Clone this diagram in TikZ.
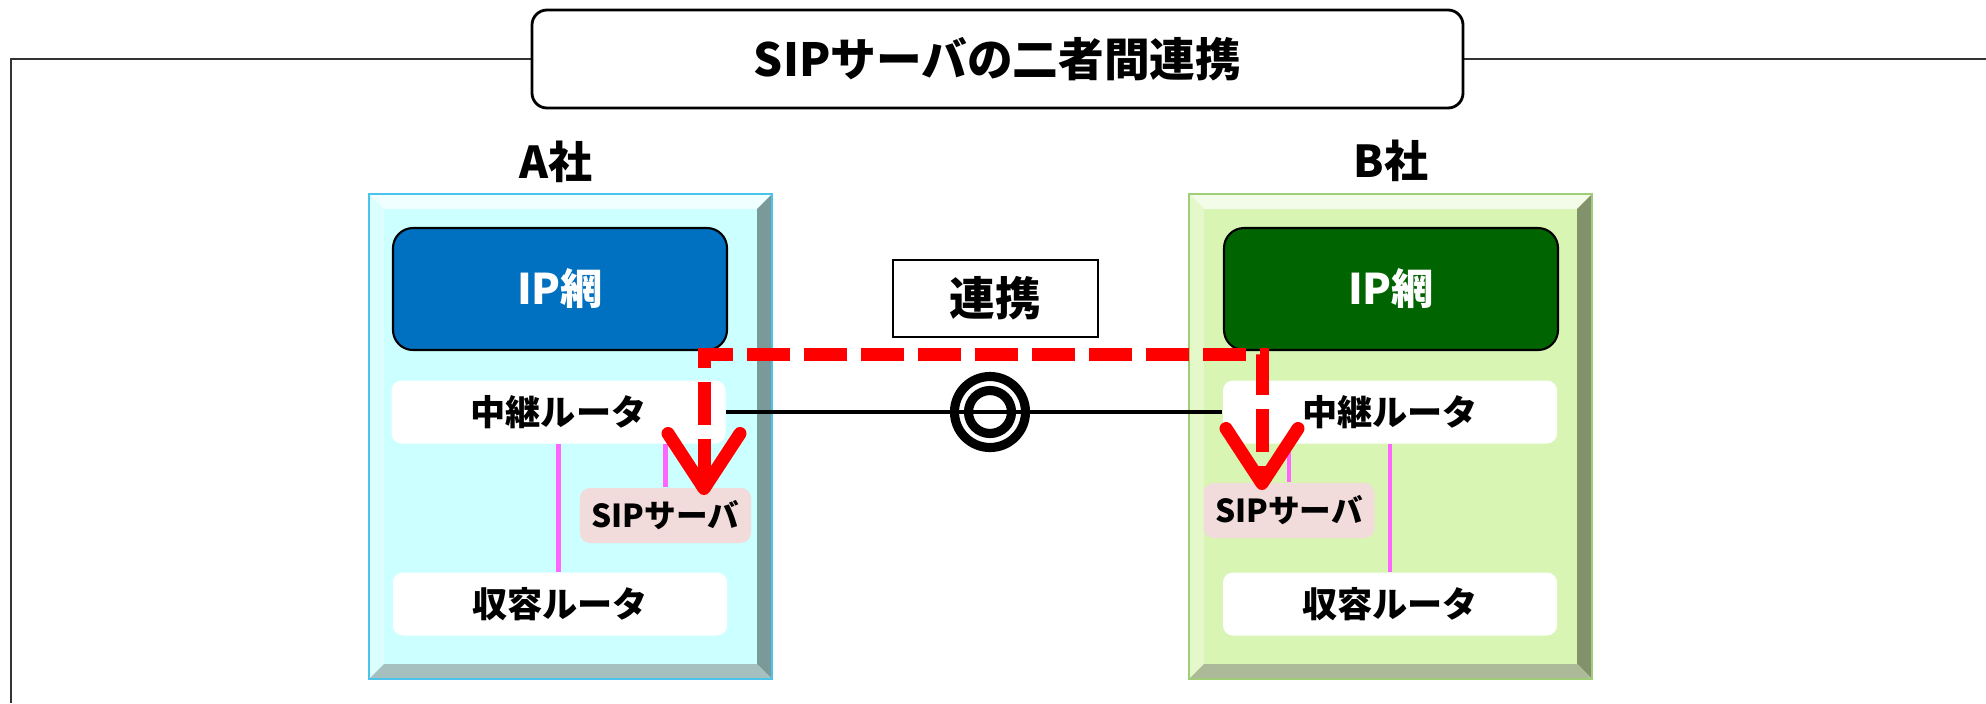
\documentclass[tikz,border=0pt]{standalone}
\usepackage{fontspec}
\setmainfont{Noto Sans CJK JP}
\usetikzlibrary{arrows.meta}
\definecolor{compA}{RGB}{204,255,255}
\definecolor{compAedge}{RGB}{75,195,235}
\definecolor{compB}{RGB}{216,245,180}
\definecolor{compBedge}{RGB}{160,205,120}
\definecolor{netA}{RGB}{0,112,192}
\definecolor{netB}{RGB}{0,100,0}
\definecolor{sipfill}{RGB}{242,220,219}
\definecolor{pinkline}{RGB}{255,102,255}

\begin{document}
\begin{tikzpicture}[
	ipnet/.style={draw=black, line width=0.6pt, rounded corners=0.2cm, minimum width=3.34cm, minimum height=1.22cm, text=white, font=\bfseries\fontsize{12}{14}\selectfont},
	router/.style={fill=white, rounded corners=0.1cm, minimum width=3.34cm, minimum height=0.63cm, font=\bfseries\fontsize{10}{12}\selectfont},
	sipbox/.style={fill=sipfill, rounded corners=0.1cm, minimum width=1.63cm, minimum height=0.55cm, font=\bfseries\fontsize{9}{11}\selectfont},
	company/.style={font=\bfseries\fontsize{12.5}{14}\selectfont},
	wire/.style={pinkline, line width=1.4pt},
	signal/.style={red, line width=3.7pt, dash pattern=on 0.43cm off 0.14cm, >={Straight Barb[length=5.5mm, width=7.2mm, round]}, <->}]

			\useasboundingbox (0,0) rectangle (19.86,7.03);
			\draw[line width=0.8pt, black!80] (0.11,0) -- (0.11,6.44) -- (19.86,6.44);

			\foreach \xa/\xb/\c/\e in {3.69/7.72/compA/compAedge, 11.89/15.92/compB/compBedge} {
				\fill[\c] (\xa,0.24) rectangle (\xb,5.09);
				\fill[white!70!\c] (\xa,5.09) -- (\xb,5.09) -- (\xb-0.15,4.94) -- (\xa+0.15,4.94) -- cycle;
				\fill[white!30!\c] (\xa,5.09) -- (\xa+0.15,4.94) -- (\xa+0.15,0.39) -- (\xa,0.24) -- cycle;
				\fill[\c!60!black] (\xb,5.09) -- (\xb-0.15,4.94) -- (\xb-0.15,0.39) -- (\xb,0.24) -- cycle;
				\fill[\c!50!gray] (\xa,0.24) -- (\xa+0.15,0.39) -- (\xb-0.15,0.39) -- (\xb,0.24) -- cycle;
				\draw[\e, line width=0.8pt] (\xa,0.24) rectangle (\xb,5.09);
			}

			\node[draw, fill=white, rounded corners=0.15cm, line width=0.8pt, minimum width=9.31cm, minimum height=0.98cm, font=\bfseries\fontsize{13}{15}\selectfont] (title) at (9.975,6.44) {SIPサーバの二者間連携};
			\node[company] (compA) at (5.56,5.41) {A社};
			\node[company] (compB) at (13.91,5.42) {B社};

			\node[ipnet, fill=netA] (ipA) at (5.60,4.14) {IP網};
			\node[ipnet, fill=netB] (ipB) at (13.91,4.14) {IP網};
			\node[router] (relayA) at (5.585,2.91) {中継ルータ};
			\node[router] (relayB) at (13.90,2.91) {中継ルータ};
			\node[router] (accA) at (5.60,0.99) {収容ルータ};
			\node[router] (accB) at (13.90,0.99) {収容ルータ};
			\node[sipbox] (sipA) at (6.655,1.875) {SIPサーバ};
			\node[sipbox] (sipB) at (12.89,1.925) {SIPサーバ};

			\draw[wire] (relayA.south) -- (relayA.south |- accA.north);
			\draw[wire] (sipA.north) -- (sipA.north |- relayA.south);
			\draw[wire] (relayB.south) -- (relayB.south |- accB.north);
			\draw[wire] (sipB.north) -- (sipB.north |- relayB.south);

			\coordinate (hub) at (9.90,2.91);
			\draw[line width=1.1pt] (relayA.east) -- (relayB.west);
			\draw[line width=2.6pt] (hub) circle [radius=0.355];
			\draw[line width=2.6pt] (hub) circle [radius=0.215];

			\node[draw, fill=white, line width=0.6pt, minimum width=2.05cm, minimum height=0.77cm, font=\bfseries\fontsize{13}{15}\selectfont] (coop) at (9.955,4.045) {連携};

			\coordinate (tipA) at (7.04,2.08);
			\coordinate (tipB) at (12.62,2.13);
			\coordinate (route) at (9.80,3.49);
			\draw[signal] (tipA) |- (route) -| (tipB);
		\end{tikzpicture}
\end{document}
